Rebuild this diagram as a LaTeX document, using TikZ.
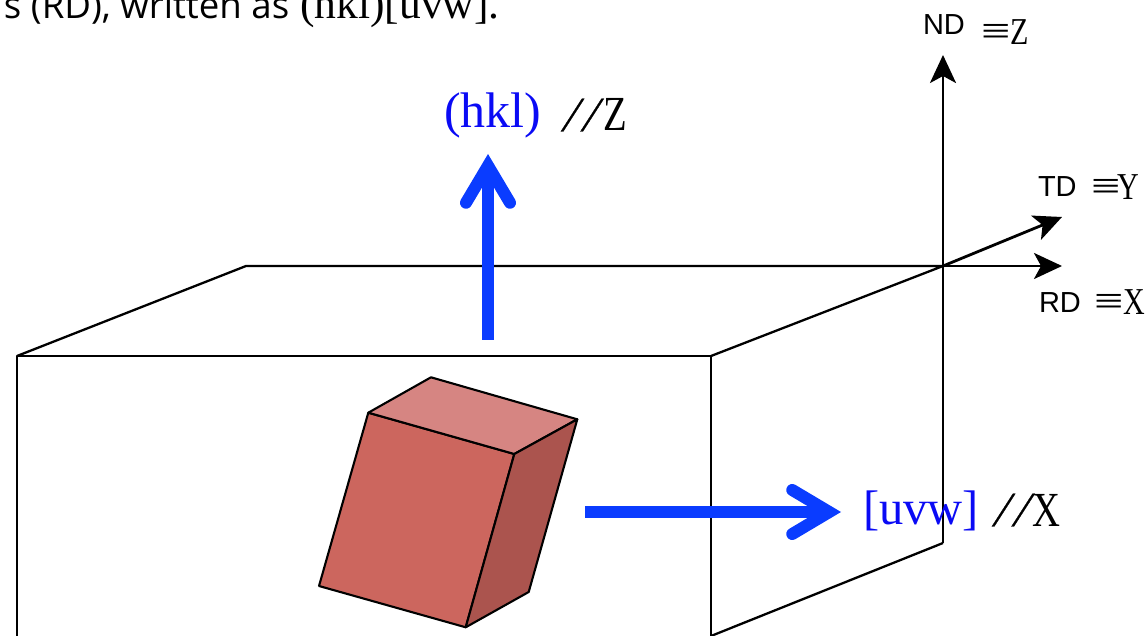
\documentclass[tikz,border=0pt]{standalone}
\usepackage{fontspec}
\usetikzlibrary{arrows.meta}
\setmainfont{Liberation Serif}
\newfontfamily\labelsans{Liberation Sans}
\newfontfamily\bodysans{Open Sans}
\newfontfamily\narrowserif[FakeStretch=0.79]{Liberation Serif}
\newfontfamily\slashfont[FakeSlant=0.3,FakeBold=0.6]{Liberation Serif}
\newfontfamily\equivfont[FakeStretch=1.3]{Liberation Serif}
\definecolor{arrowblue}{HTML}{0A3CFF}
\definecolor{textblue}{HTML}{0A0AF5}
\definecolor{crystalfront}{HTML}{CC665E}
\definecolor{crystaltop}{HTML}{D68582}
\definecolor{crystalside}{HTML}{AB544E}
\newcommand{\fs}[1]{\fontsize{#1}{#1}\selectfont}
\tikzset{
  txt/.style={anchor=base west,inner sep=0pt,outer sep=0pt},
  edgeline/.style={line width=2.3pt,line join=round},
  axisline/.style={line width=2.8pt,-{Stealth[length=28pt,width=26pt,inset=7pt]}},
  cubeface/.style={draw=black,line width=2.1pt,line join=round},
  bluearrow/.style={arrowblue,line width=12pt,line cap=butt,
    -{Straight Barb[line cap=round,line join=miter,length=37pt,width=44pt,line width=12pt]}}
}
\begin{document}
\begin{tikzpicture}[x=1pt,y=-1pt]
\useasboundingbox (0,0) rectangle (1146,636);
\clip (0,0) rectangle (1146,636);
% box corners
\coordinate (fbl) at (17,650);
\coordinate (ftl) at (17,356);
\coordinate (ftr) at (711,356);
\coordinate (fbr) at (711,636);
\coordinate (btl) at (246,266);
\coordinate (o) at (943,266);
\coordinate (bbr) at (943,543);
\coordinate (ndend) at (943,55);
\coordinate (tdend) at (1062,217);
\coordinate (rdend) at (1062,266);
\draw[edgeline] (fbl) -- (ftl) -- (ftr) -- (fbr);
\draw[edgeline] (ftl) -- (btl) -- (o) -- (ftr);
\draw[edgeline] (bbr) -- (fbr);
% axes
\draw[axisline] (bbr) -- (ndend);
\draw[axisline] (o) -- (tdend);
\draw[axisline] (o) -- (rdend);
% crystal
\coordinate (ca) at (368.3,412.7);
\coordinate (cb) at (514.3,454);
\coordinate (cc) at (465.7,627.3);
\coordinate (cd) at (319,586);
\coordinate (ce) at (431,377.3);
\coordinate (cf) at (577.3,419.3);
\coordinate (cg) at (528.7,592);
\draw[cubeface,fill=crystalfront] (ca) -- (cb) -- (cc) -- (cd) -- cycle;
\draw[cubeface,fill=crystaltop] (ca) -- (ce) -- (cf) -- (cb) -- cycle;
\draw[cubeface,fill=crystalside] (cb) -- (cf) -- (cg) -- (cc) -- cycle;
% blue arrows
\coordinate (ustart) at (488,340);
\coordinate (uend) at (488,154);
\coordinate (hstart) at (585,512);
\coordinate (hend) at (841,512);
\draw[bluearrow] (ustart) -- (uend);
\draw[bluearrow] (hstart) -- (hend);
% texts
\node[txt] (intro) at (4,19) {{\bodysans\fs{36.6}s (RD), written as}\hspace{11pt}{\fs{43.5}(hkl)[uvw].}};
\node[txt] (hkl) at (444,128) {\textcolor{textblue}{\fs{50}(hkl)}};
\node[txt] (parz) at (561,131) {{\slashfont\fs{49}/\kern6pt/}\kern9pt{\narrowserif\fs{49}Z}};
\node[txt] (uvw) at (863,524) {\textcolor{textblue}{\fs{48.5}[uvw]}};
\node[txt] (parx) at (992,526) {{\slashfont\fs{49}/\kern6pt/}\kern7pt{\narrowserif\fs{49}X}};
\node[txt] (nd) at (923,35) {{\labelsans\fs{29}ND}};
\node[txt] (ndz) at (981,45) {{\equivfont\fs{40}≡}{\narrowserif\fs{38}Z}};
\node[txt] (td) at (1038,197) {{\labelsans\fs{29}TD}};
\node[txt] (tdy) at (1091,200) {{\equivfont\fs{40}≡}\kern-3pt{\narrowserif\fs{38}Y}};
\node[txt] (rd) at (1039,313) {{\labelsans\fs{29}RD}};
\node[txt] (rdx) at (1094,315) {{\equivfont\fs{40}≡}{\narrowserif\fs{38}X}};
\end{tikzpicture}
\end{document}
